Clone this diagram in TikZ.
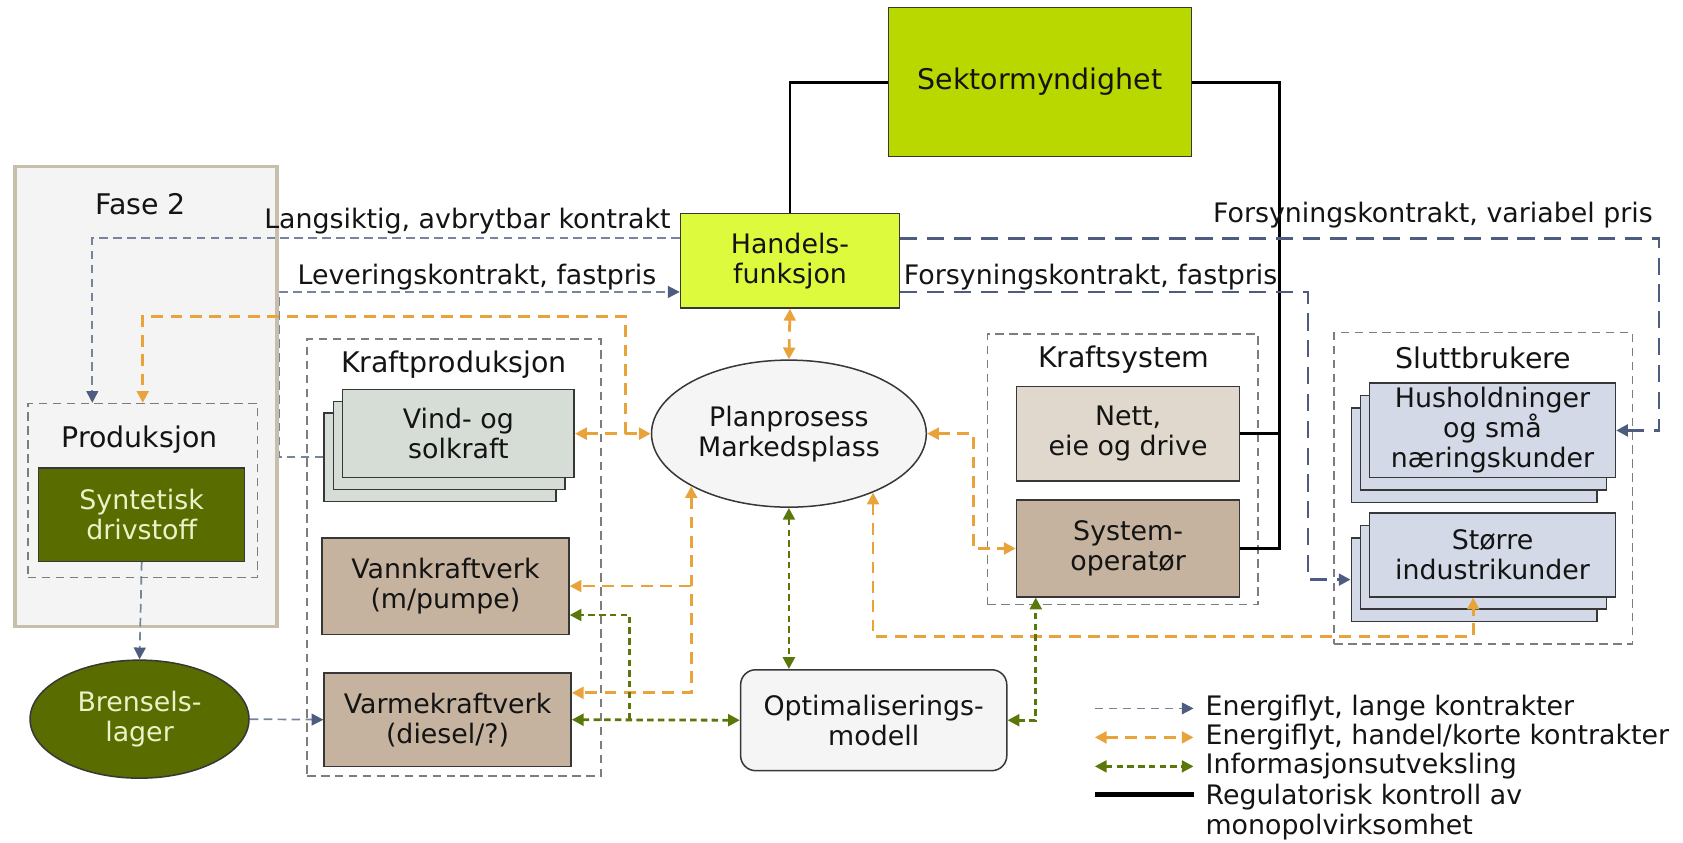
\documentclass[tikz,border=0pt]{standalone}
\usepackage{fontspec}
\setmainfont{DejaVu Sans}
\usetikzlibrary{arrows.meta,calc,shapes.geometric}
\newcommand\txtfont{\fontsize{25}{28}\selectfont}
\newcommand\headfont{\fontsize{26.5}{29}\selectfont}
\definecolor{txtc}{RGB}{20,20,20}
\definecolor{boxline}{RGB}{55,55,55}
\definecolor{grpc}{RGB}{125,125,125}
\definecolor{fasefill}{RGB}{244,244,244}
\definecolor{faseline}{RGB}{200,190,172}
\definecolor{olivec}{RGB}{88,108,0}
\definecolor{lighttxt}{RGB}{235,242,200}
\definecolor{vindc}{RGB}{213,221,214}
\definecolor{tanc}{RGB}{197,179,159}
\definecolor{nettc}{RGB}{224,216,204}
\definecolor{custc}{RGB}{211,217,230}
\definecolor{lightfill}{RGB}{245,245,245}
\definecolor{sekc}{RGB}{184,216,0}
\definecolor{hanc}{RGB}{222,250,60}
\definecolor{bluethinc}{RGB}{120,132,158}
\definecolor{bluec}{RGB}{78,92,128}
\definecolor{orangec}{RGB}{232,164,58}
\definecolor{greenc}{RGB}{90,120,10}
\begin{document}
\begin{tikzpicture}[x=1pt,y=-1pt,>={Triangle[length=11pt,width=11pt]},
  box/.style={draw=boxline,line width=1.4pt,inner sep=0pt,align=center,font=\txtfont,text=txtc},
  grp/.style={draw=grpc,line width=1.4pt,dash pattern=on 8pt off 5pt,inner sep=0pt},
  lbl/.style={font=\txtfont,text=txtc,inner sep=0pt},
  head/.style={font=\headfont,text=txtc,inner sep=0pt},
  bluethin/.style={draw=bluethinc,line width=1.6pt,dash pattern=on 8pt off 5pt,>={Triangle[length=11pt,width=11pt,color=bluec]}},
  bluethick/.style={draw=bluec,line width=2.6pt,dash pattern=on 16pt off 9pt},
  orangeflow/.style={draw=orangec,line width=2.6pt,dash pattern=on 11pt off 7pt},
  infoflow/.style={draw=greenc,line width=2.6pt,dash pattern=on 6pt off 4pt},
  reg/.style={draw=black,line width=2.6pt}]
\useasboundingbox (0,0) rectangle (1568,785);

% Fase 2
\node[fill=fasefill,draw=faseline,line width=3pt,minimum width=244pt,minimum height=429pt,inner sep=0pt] (fase) at (136,369.5) {};
\node[head] (fasetxt) at (131,190) {Fase 2};
\node[grp,minimum width=214pt,minimum height=162pt] (prodgrp) at (133,457) {};
\node[head] (prodtxt) at (130,410) {Produksjon};
\node[box,fill=olivec,text=lighttxt,minimum width=192pt,minimum height=87pt] (syn) at (132,479.5) {Syntetisk\\drivstoff};
\node[box,ellipse,fill=olivec,text=lighttxt,minimum width=204pt,minimum height=110pt] (bren) at (130,670) {Brensels-\\lager};

% Kraftproduksjon
\node[grp,minimum width=274pt,minimum height=407pt] (kpgrp) at (423,519.5) {};
\node[head] (kptxt) at (423,340) {Kraftproduksjon};
\node[box,fill=vindc,minimum width=216pt,minimum height=82pt] (vind3) at (410,426) {};
\node[box,fill=vindc,minimum width=216pt,minimum height=82pt] (vind2) at (418.5,415) {};
\node[box,fill=vindc,minimum width=216pt,minimum height=82pt] (vind) at (427,404) {Vind- og\\solkraft};
\node[box,fill=tanc,minimum width=230pt,minimum height=90pt] (vann) at (415,546) {Vannkraftverk\\(m/pumpe)};
\node[box,fill=tanc,minimum width=230pt,minimum height=87pt] (varme) at (417,670.5) {Varmekraftverk\\(diesel/?)};

% centre
\node[box,ellipse,fill=lightfill,minimum width=256pt,minimum height=137pt] (plan) at (735,404) {Planprosess\\Markedsplass};
\node[box,rounded corners=14pt,fill=lightfill,minimum width=248pt,minimum height=94pt] (opt) at (814,671) {Optimaliserings-\\modell};
\node[box,fill=sekc,minimum width=282pt,minimum height=139pt,font=\headfont] (sek) at (969,76.5) {Sektormyndighet};
\node[box,fill=hanc,minimum width=204pt,minimum height=88pt] (han) at (736,243) {Handels-\\funksjon};

% Kraftsystem
\node[grp,minimum width=252pt,minimum height=252pt] (ksgrp) at (1046,437) {};
\node[head] (kstxt) at (1047,335) {Kraftsystem};
\node[box,fill=nettc,minimum width=208pt,minimum height=88pt] (nett) at (1051,404) {Nett,\\eie og drive};
\node[box,fill=tanc,minimum width=208pt,minimum height=90pt] (sysop) at (1051,511) {System-\\operatør};

% Sluttbrukere
\node[grp,minimum width=278pt,minimum height=290pt] (sbgrp) at (1382,455) {};
\node[head] (sbtxt) at (1382,333) {Sluttbrukere};
\node[box,fill=custc,minimum width=229pt,minimum height=88pt] (hus3) at (1373.5,424) {};
\node[box,fill=custc,minimum width=229pt,minimum height=88pt] (hus2) at (1382,412.5) {};
\node[box,fill=custc,minimum width=229pt,minimum height=88pt] (hus) at (1390.5,401) {Husholdninger\\og små\\næringskunder};
\node[box,fill=custc,minimum width=229pt,minimum height=78pt] (storre3) at (1373.5,540) {};
\node[box,fill=custc,minimum width=229pt,minimum height=78pt] (storre2) at (1382,528.5) {};
\node[box,fill=custc,minimum width=229pt,minimum height=78pt] (storre) at (1390.5,517) {Større\\industrikunder};

% regulatory lines
\coordinate (regbus) at (1192,511);
\draw[reg] (sek.west) -| (han.north);
\draw[reg] (sek.east) -| (regbus) -- (sysop.east);
\draw[reg] (nett.east) -- (nett.east -| regbus);

% long contracts
\draw[bluethin,->] ([yshift=21pt]han.west) -| ([xshift=-47pt]prodgrp.north);
\draw[bluethin,->] (vind3.west) -- ++(-41,0) |- ([yshift=-29pt]han.west);
\draw[bluethick,->] ([yshift=21pt]han.east) -- ++(707,0) |- (hus.east);
\draw[bluethick,->] ([yshift=-29pt]han.east) -- ++(380,0) |- (storre3.west);
\draw[bluethin,->] (syn.south) -- (bren.north);
\draw[bluethin,->] (bren.east) -- (varme.west);

\node[lbl,anchor=base east] (l1) at (625,213) {Langsiktig, avbrytbar kontrakt};
\node[lbl,anchor=base west] (l2) at (277,265) {Leveringskontrakt, fastpris};
\node[lbl,anchor=base west] (l3) at (1130,207) {Forsyningskontrakt, variabel pris};
\node[lbl,anchor=base west] (l4) at (842,265) {Forsyningskontrakt, fastpris};

% trade / short contracts
\coordinate (oj1) at (583,404);
\draw[orangeflow,<->] (vind.east) -- (plan.west);
\draw[orangeflow,->] (oj1) -- ++(0,-109) -| (prodgrp.north);
\draw[orangeflow,<->] (han.south) -- (plan.north);
\draw[orangeflow,<->] (plan.south west) |- ([yshift=25pt]varme.east);
\draw[orangeflow,->] (plan.south west |- vann.east) -- (vann.east);
\draw[orangeflow,<->] (plan.325) -- ++(0,134) -| ([xshift=-18pt]storre.south);
\draw[orangeflow,<->] (plan.east) -- ++(43,0) |- (sysop.west);

% information
\draw[infoflow,<->] (plan.south) -- (plan.south |- opt.north);
\draw[infoflow,<->] (opt.west) -- (varme.east);
\draw[infoflow,->] ([xshift=54pt]varme.east) |- ([yshift=-27pt]vann.east);
\draw[infoflow,<->] (opt.east) -| ([xshift=-86pt]sysop.south);

% legend
\coordinate (la1) at (1020,660); \coordinate (lb1) at (1112,660);
\coordinate (la2) at (1020,687); \coordinate (lb2) at (1112,687);
\coordinate (la3) at (1020,714); \coordinate (lb3) at (1112,714);
\coordinate (la4) at (1020,740); \coordinate (lb4) at (1112,740);
\draw[bluethin,->] (la1) -- (lb1);
\draw[orangeflow,<->] (la2) -- (lb2);
\draw[infoflow,<->] (la3) -- (lb3);
\draw[reg,line width=4.5pt] (la4) -- (lb4);
\node[lbl,anchor=west] (t1) at (1123,660) {Energiflyt, lange kontrakter};
\node[lbl,anchor=west] (t2) at (1123,687) {Energiflyt, handel/korte kontrakter};
\node[lbl,anchor=west] (t3) at (1123,714) {Informasjonsutveksling};
\node[lbl,anchor=west,align=left] (t4) at (1123,757) {Regulatorisk kontroll av\\monopolvirksomhet};
\end{tikzpicture}
\end{document}
